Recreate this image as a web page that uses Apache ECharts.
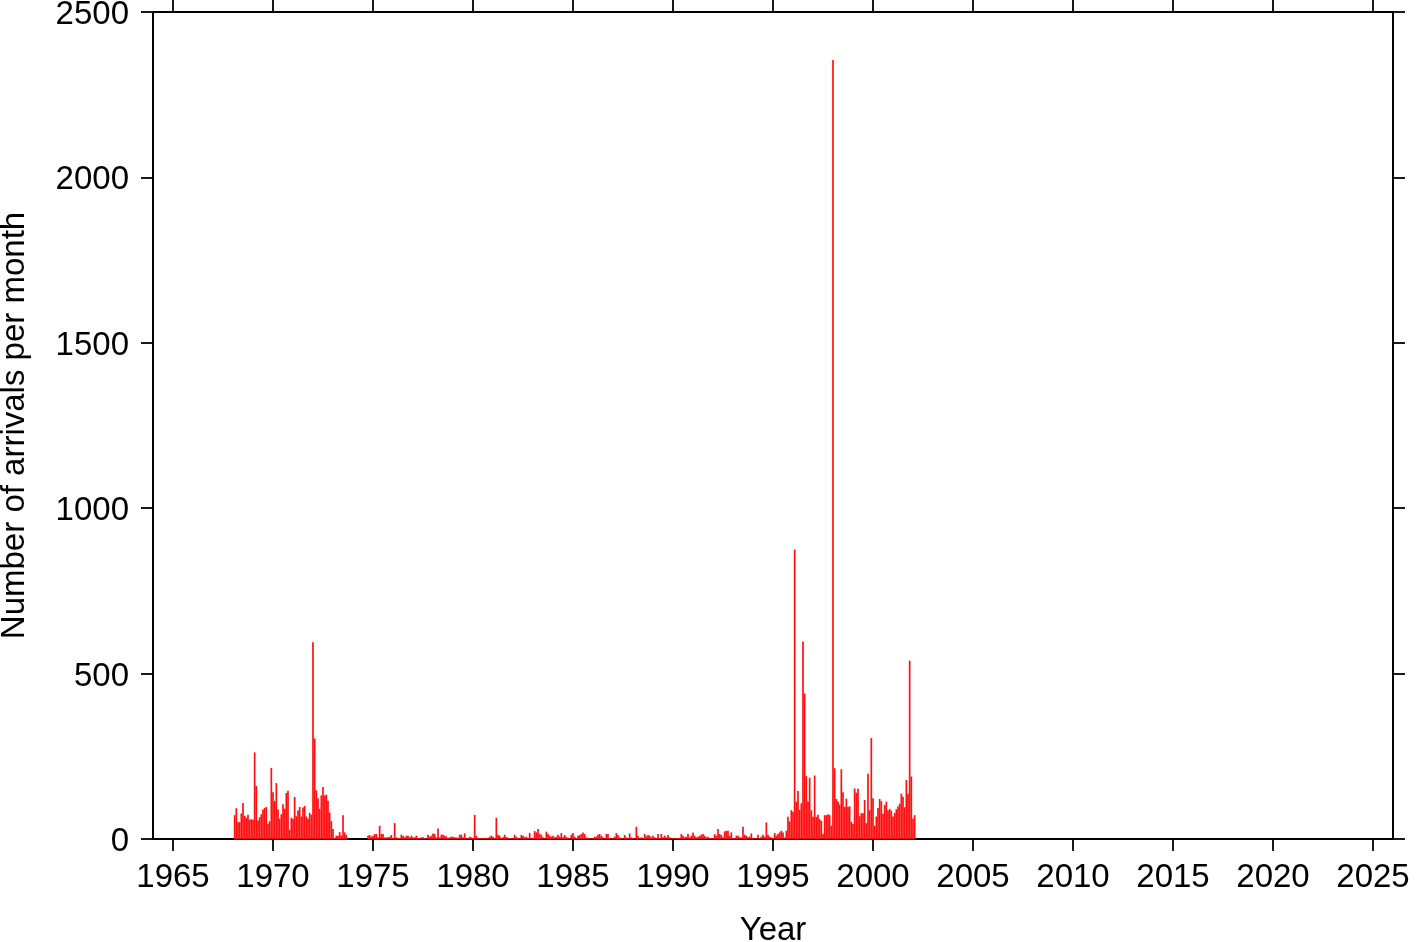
<!DOCTYPE html>
<html>
<head>
<meta charset="utf-8">
<script src="https://cdn.jsdelivr.net/npm/echarts@6/dist/echarts.min.js"></script>
<style>
html,body{margin:0;padding:0;background:#fff;}
#chart{width:1419px;height:942px;}
</style>
</head>
<body>
<div id="chart"></div>
<script>
// Tick labels
const xTickYears = [1965, 1970, 1975, 1980, 1985, 1990, 1995, 2000, 2005, 2010, 2015, 2020, 2025];
const yTickValues = [0, 500, 1000, 1500, 2000, 2500];

// Number of arrivals per month (Jan..Dec)
const firstYear = 1968;
const arrivals1968 = [0, 72, 93, 51, 51, 77, 109, 70, 64, 73, 58, 60];
const arrivals1969 = [58, 262, 160, 56, 66, 75, 89, 94, 97, 46, 54, 215];
const arrivals1970 = [141, 115, 169, 89, 61, 75, 105, 92, 139, 146, 28, 64];
const arrivals1971 = [61, 127, 69, 86, 97, 68, 95, 100, 68, 61, 79, 73];
const arrivals1972 = [595, 304, 147, 123, 91, 132, 157, 132, 134, 116, 80, 54];
const arrivals1973 = [30, 3, 10, 10, 21, 11, 72, 20, 13, 0, 0, 0];
const arrivals1974 = [0, 0, 0, 0, 0, 0, 0, 0, 0, 10, 12, 7];
const arrivals1975 = [10, 15, 15, 5, 40, 15, 15, 5, 5, 5, 7, 12];
const arrivals1976 = [3, 48, 5, 3, 3, 13, 10, 5, 10, 10, 5, 10];
const arrivals1977 = [5, 5, 10, 2, 3, 5, 5, 3, 2, 13, 7, 10];
const arrivals1978 = [17, 15, 5, 32, 5, 13, 13, 10, 8, 3, 5, 7];
const arrivals1979 = [7, 5, 5, 2, 13, 13, 5, 17, 2, 3, 7, 5];
const arrivals1980 = [3, 73, 10, 2, 3, 3, 2, 3, 3, 2, 7, 10];
const arrivals1981 = [7, 3, 64, 13, 10, 3, 5, 13, 6, 4, 3, 3];
const arrivals1982 = [2, 13, 7, 3, 2, 12, 10, 5, 7, 2, 18, 3];
const arrivals1983 = [3, 24, 20, 30, 15, 13, 5, 2, 22, 15, 10, 7];
const arrivals1984 = [10, 5, 7, 13, 7, 18, 5, 12, 7, 3, 2, 13];
const arrivals1985 = [18, 7, 3, 10, 12, 15, 20, 15, 5, 3, 3, 2];
const arrivals1986 = [3, 7, 7, 13, 15, 10, 5, 2, 15, 15, 3, 2];
const arrivals1987 = [3, 7, 18, 12, 5, 3, 2, 12, 5, 2, 17, 5];
const arrivals1988 = [3, 2, 37, 10, 2, 5, 2, 15, 8, 12, 10, 5];
const arrivals1989 = [10, 5, 3, 15, 3, 15, 5, 10, 5, 12, 5, 2];
const arrivals1990 = [3, 2, 3, 3, 3, 15, 10, 5, 7, 15, 5, 10];
const arrivals1991 = [20, 10, 5, 7, 10, 13, 15, 10, 5, 7, 3, 3];
const arrivals1992 = [3, 15, 10, 30, 15, 12, 5, 23, 25, 25, 10, 20];
const arrivals1993 = [3, 3, 10, 10, 5, 5, 37, 13, 10, 5, 7, 17];
const arrivals1994 = [3, 2, 2, 13, 3, 7, 13, 7, 50, 13, 7, 5];
const arrivals1995 = [3, 18, 10, 15, 20, 25, 20, 5, 25, 67, 53, 87];
const arrivals1996 = [82, 875, 113, 145, 88, 108, 597, 440, 190, 113, 185, 87];
const arrivals1997 = [67, 192, 67, 73, 60, 55, 15, 72, 72, 75, 72, 40];
const arrivals1998 = [2355, 214, 121, 113, 104, 211, 141, 97, 122, 97, 99, 52];
const arrivals1999 = [45, 153, 140, 152, 69, 78, 78, 118, 48, 197, 87, 305];
const arrivals2000 = [123, 40, 68, 94, 121, 114, 76, 103, 113, 86, 91, 86];
const arrivals2001 = [68, 79, 90, 98, 107, 137, 128, 96, 178, 137, 539, 189];
const arrivals2002 = [62, 72];

const monthlyByYear = [
  arrivals1968, arrivals1969, arrivals1970, arrivals1971, arrivals1972, arrivals1973,
  arrivals1974, arrivals1975, arrivals1976, arrivals1977, arrivals1978, arrivals1979,
  arrivals1980, arrivals1981, arrivals1982, arrivals1983, arrivals1984, arrivals1985,
  arrivals1986, arrivals1987, arrivals1988, arrivals1989, arrivals1990, arrivals1991,
  arrivals1992, arrivals1993, arrivals1994, arrivals1995, arrivals1996, arrivals1997,
  arrivals1998, arrivals1999, arrivals2000, arrivals2001, arrivals2002
];

const barData = [];
monthlyByYear.forEach(function (months, i) {
  months.forEach(function (v, m) {
    barData.push([firstYear + i + m / 12, v]);
  });
});

const FONT = "'Liberation Sans', Arial, Helvetica, sans-serif";
const lineStyle = { color: '#000', width: 2 };
const tickStyle = { color: '#000', width: 1.8 };
const plainLabel = function (v) { return String(v); };

const chart = echarts.init(document.getElementById('chart'), null, { renderer: 'canvas' });
chart.setOption({
  animation: false,
  backgroundColor: '#fff',
  grid: { left: 153, right: 26, top: 12, bottom: 103, containLabel: false, outerBoundsMode: 'none' },
  xAxis: [
    {
      type: 'value', position: 'bottom', min: 1964, max: 2026,
      axisLine: { show: true, onZero: false, lineStyle: lineStyle },
      axisTick: { show: true, inside: false, length: 12, lineStyle: tickStyle, customValues: xTickYears },
      axisLabel: { show: true, customValues: xTickYears, formatter: plainLabel, fontSize: 33, fontFamily: FONT, color: '#000', margin: 22 },
      splitLine: { show: false },
      name: 'Year', nameLocation: 'middle', nameGap: 75,
      nameTextStyle: { fontSize: 33, fontFamily: FONT, color: '#000' }
    },
    {
      type: 'value', position: 'top', min: 1964, max: 2026,
      axisLine: { show: true, onZero: false, lineStyle: lineStyle },
      axisTick: { show: true, inside: false, length: 12, lineStyle: tickStyle, customValues: xTickYears },
      axisLabel: { show: false, customValues: xTickYears },
      splitLine: { show: false }
    }
  ],
  yAxis: [
    {
      type: 'value', position: 'left', min: 0, max: 2500, interval: 500,
      axisLine: { show: true, onZero: false, lineStyle: lineStyle },
      axisTick: { show: true, inside: false, length: 12, lineStyle: tickStyle, customValues: yTickValues },
      axisLabel: { show: true, customValues: yTickValues, formatter: plainLabel, fontSize: 33, fontFamily: FONT, color: '#000', margin: 24, verticalAlign: 'top', lineHeight: 6 },
      splitLine: { show: false },
      name: 'Number of arrivals per month', nameLocation: 'middle', nameGap: 122,
      nameTextStyle: { fontSize: 33, fontFamily: FONT, color: '#000' }
    },
    {
      type: 'value', position: 'right', min: 0, max: 2500, interval: 500,
      axisLine: { show: true, onZero: false, lineStyle: lineStyle },
      axisTick: { show: true, inside: false, length: 12, lineStyle: tickStyle, customValues: yTickValues },
      axisLabel: { show: false, customValues: yTickValues },
      splitLine: { show: false }
    }
  ],
  series: [
    {
      type: 'bar',
      xAxisIndex: 0, yAxisIndex: 0,
      data: barData,
      barWidth: 1.7,
      itemStyle: { color: '#ff1010' },
      silent: true
    }
  ]
});
</script>
</body>
</html>
